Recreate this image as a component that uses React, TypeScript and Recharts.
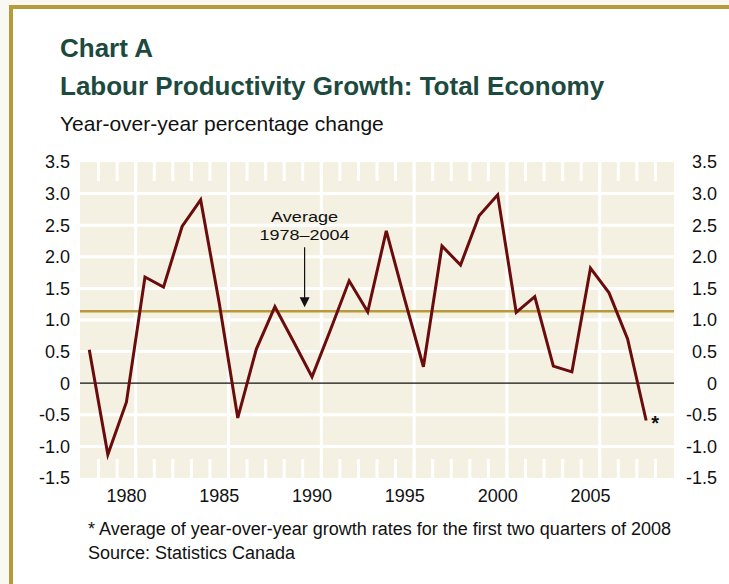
import React from 'react';
import {
  LineChart, Line, XAxis, YAxis, CartesianGrid, ReferenceLine, ReferenceDot,
} from 'recharts';

const years = [
  1978, 1979, 1980, 1981, 1982, 1983, 1984, 1985, 1986, 1987, 1988,
  1989, 1990, 1991, 1992, 1993, 1994, 1995, 1996, 1997, 1998, 1999,
  2000, 2001, 2002, 2003, 2004, 2005, 2006, 2007, 2008,
];
const growth = [
  0.53, -1.13, -0.3, 1.68, 1.52, 2.48, 2.9, 1.27, -0.55, 0.54, 1.21,
  0.66, 0.1, 0.85, 1.62, 1.13, 2.41, 1.32, 0.26, 2.17, 1.87, 2.65,
  2.98, 1.12, 1.37, 0.27, 0.18, 1.82, 1.43, 0.7, -0.59,
];
const average = 1.14;
const yTicks = [-1.5, -1, -0.5, 0, 0.5, 1, 1.5, 2, 2.5, 3, 3.5];
const yearLabels = [1980, 1985, 1990, 1995, 2000, 2005];

const data = years.map((year, i) => ({ year, growth: growth[i] }));

const FONT = '"Liberation Sans", Arial, sans-serif';
const GOLD = '#b59b3b';
const GREEN = '#1d4a3e';
const MAROON = '#6b0c0c';
const BEIGE = '#f4f1e3';

const xDomain = [years[0] - 0.5, years[years.length - 1] + 1.5];
const yMin = yTicks[0];
const yMax = yTicks[yTicks.length - 1];
const tickLen = 0.3;
const boundaries = years.map((y) => y + 0.5);
const majors = yearLabels.map((y) => y + 0.5);
const gridYs = yTicks.filter((v) => v > yMin && v < yMax && v !== 0);

const fmt = (v: number) => (v === 0 ? '0' : v.toFixed(1));

const RightTick = (props: any) => (
  <text
    x={props.x + 43}
    y={props.y}
    dy="0.355em"
    textAnchor="end"
    fontSize={18}
    fontFamily={FONT}
    fill="#111"
  >
    {fmt(props.payload.value)}
  </text>
);

// annotation: text is a bit squat in the original, so stretch a smaller font
const AverageNote = (props: any) => {
  const { cx, cy } = props;
  return (
    <g>
      <text x={cx} y={cy - 85} textAnchor="middle" fontSize={15} fontFamily={FONT} fill="#111"
        textLength={67} lengthAdjust="spacingAndGlyphs">
        Average
      </text>
      <text x={cx} y={cy - 67} textAnchor="middle" fontSize={15} fontFamily={FONT} fill="#111"
        textLength={90} lengthAdjust="spacingAndGlyphs">
        1978–2004
      </text>
      <line x1={cx} x2={cx} y1={cy - 60} y2={cy - 8} stroke="#111" strokeWidth={1.2} />
      <path d={`M${cx - 5},${cy - 10} L${cx + 5},${cy - 10} L${cx},${cy} Z`} fill="#111" />
    </g>
  );
};

const Asterisk = (props: any) => (
  <text x={props.cx + 9} y={props.cy + 10} textAnchor="middle" fontSize={20} fontWeight="bold" fontFamily={FONT} fill="#111">
    *
  </text>
);

export default function App() {
  return (
    <div style={{ position: 'absolute', left: 0, top: 0, width: 729, height: 584, background: '#faf8f3', overflow: 'hidden' }}>
      <div
        style={{
          position: 'absolute', left: 9, top: 5, width: 740, height: 600,
          background: '#fff', borderTop: `4px solid ${GOLD}`, borderLeft: `4px solid ${GOLD}`,
        }}
      />
      <svg width={729} height={584} style={{ position: 'absolute', left: 0, top: 0 }}>
        <text x={60} y={57} fontSize={26} fontWeight="bold" fontFamily={FONT} fill={GREEN}>
          Chart A
        </text>
        <text x={60} y={95} fontSize={26} fontWeight="bold" fontFamily={FONT} fill={GREEN}>
          Labour Productivity Growth: Total Economy
        </text>
        <text x={60} y={131} fontSize={21} fontFamily={FONT} fill="#111">
          Year-over-year percentage change
        </text>
        <text x={88} y={535} fontSize={18} fontFamily={FONT} fill="#111">
          * Average of year-over-year growth rates for the first two quarters of 2008
        </text>
        <text x={88} y={559} fontSize={18} fontFamily={FONT} fill="#111">
          Source: Statistics Canada
        </text>
      </svg>
      <div style={{ position: 'absolute', left: 0, top: 140 }}>
        <LineChart width={729} height={380} data={data} margin={{ top: 22, right: 0, bottom: 12, left: 0 }}>
          <CartesianGrid fill={BEIGE} horizontal={false} vertical={false} />
          <XAxis
            dataKey="year"
            type="number"
            domain={xDomain}
            ticks={yearLabels}
            interval={0}
            axisLine={false}
            tickLine={false}
            tickSize={0}
            tickMargin={11}
            height={30}
            tick={{ fontSize: 18, fontFamily: FONT, fill: '#111' }}
            allowDataOverflow
          />
          <YAxis
            domain={[yMin, yMax]}
            ticks={yTicks}
            interval={0}
            width={80}
            axisLine={false}
            tickLine={false}
            tickSize={0}
            tickMargin={10}
            tickFormatter={fmt}
            tick={{ fontSize: 18, fontFamily: FONT, fill: '#111' }}
            allowDataOverflow
          />
          <YAxis
            yAxisId="right"
            orientation="right"
            domain={[yMin, yMax]}
            ticks={yTicks}
            interval={0}
            width={55}
            axisLine={false}
            tickLine={false}
            tickSize={0}
            tickMargin={0}
            tick={<RightTick />}
            allowDataOverflow
          />
          {gridYs.map((v) => (
            <ReferenceLine key={`h${v}`} y={v} stroke="#fff" strokeWidth={3} />
          ))}
          {majors.map((x) => (
            <ReferenceLine key={`v${x}`} x={x} stroke="#fff" strokeWidth={3} />
          ))}
          {boundaries.map((x) => (
            <ReferenceLine key={`t${x}`} segment={[{ x, y: yMax }, { x, y: yMax - tickLen }]} stroke="#fff" strokeWidth={3} />
          ))}
          {boundaries.map((x) => (
            <ReferenceLine key={`b${x}`} segment={[{ x, y: yMin }, { x, y: yMin + tickLen }]} stroke="#fff" strokeWidth={3} />
          ))}
          <ReferenceLine y={average} stroke={GOLD} strokeWidth={2.5} />
          <ReferenceLine y={0} stroke="#111" strokeWidth={1.3} />
          <ReferenceDot x={1989.6} y={1.2} r={0} shape={<AverageNote />} />
          <ReferenceDot x={years[years.length - 1]} y={growth[growth.length - 1]} r={0} shape={<Asterisk />} />
          <Line
            type="linear"
            dataKey="growth"
            stroke={MAROON}
            strokeWidth={3}
            dot={false}
            isAnimationActive={false}
          />
        </LineChart>
      </div>
    </div>
  );
}
